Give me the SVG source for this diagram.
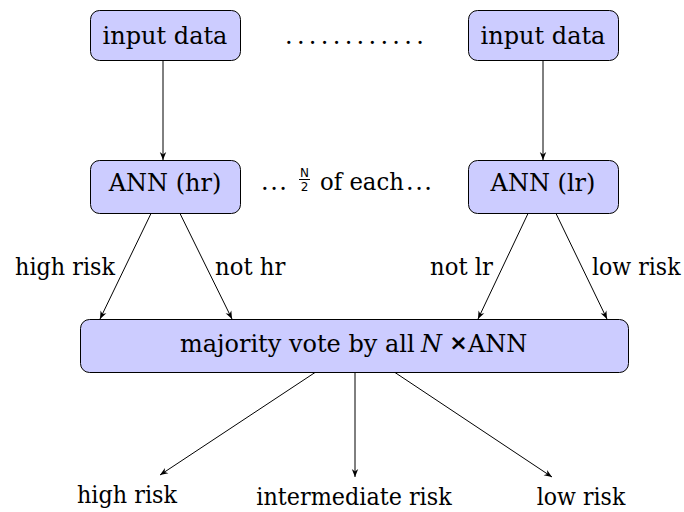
<svg xmlns="http://www.w3.org/2000/svg" width="684" height="512" viewBox="0 0 684 512">
<defs>
<marker id="ah" viewBox="0 0 10 10" refX="10" refY="5" markerWidth="8" markerHeight="8" orient="auto" markerUnits="userSpaceOnUse">
<path d="M0,1 L10,5 L0,9 L3,5 Z" fill="#000"/>
</marker>
</defs>
<rect width="684" height="512" fill="#fff"/>
<g id="input1"><rect x="90.5" y="10.5" width="150" height="50" rx="9" fill="#ccccff" stroke="#000" stroke-width="1"/><text font-family="DejaVu Serif, serif" font-size="24" x="165" y="43.5" text-anchor="middle">input data</text></g>
<g id="input2"><rect x="468.5" y="10.5" width="150" height="50" rx="9" fill="#ccccff" stroke="#000" stroke-width="1"/><text font-family="DejaVu Serif, serif" font-size="24" x="543" y="43.5" text-anchor="middle">input data</text></g>
<g id="dots1"><text font-family="DejaVu Serif, serif" font-size="24" x="285" y="43.5" letter-spacing="4.3">............</text></g>
<g id="ann_hr"><rect x="90.5" y="160.5" width="150" height="53" rx="9" fill="#ccccff" stroke="#000" stroke-width="1"/><text font-family="DejaVu Serif, serif" font-size="24" x="165" y="191" text-anchor="middle">ANN (hr)</text></g>
<g id="ann_lr"><rect x="468.5" y="160.5" width="150" height="53" rx="9" fill="#ccccff" stroke="#000" stroke-width="1"/><text font-family="DejaVu Serif, serif" font-size="24" x="543" y="191" text-anchor="middle">ANN (lr)</text></g>
<g id="each">
<text font-family="DejaVu Serif, serif" font-size="24" x="261" y="190" letter-spacing="1.5">...</text>
<text x="304.5" y="176.5" font-family="DejaVu Sans, sans-serif" font-size="12" text-anchor="middle">N</text>
<line x1="299" y1="179.5" x2="310" y2="179.5" stroke="#000" stroke-width="1"/>
<text x="304.5" y="190.5" font-family="DejaVu Sans, sans-serif" font-size="12" text-anchor="middle">2</text>
<text font-family="DejaVu Serif, serif" font-size="24" transform="translate(320,190) scale(0.95,1)">of each</text>
<text font-family="DejaVu Serif, serif" font-size="24" x="406" y="190" letter-spacing="1.5">...</text>
</g>
<g id="vote"><rect x="80.5" y="319.5" width="548" height="53" rx="9" fill="#ccccff" stroke="#000" stroke-width="1"/>
<text font-family="DejaVu Serif, serif" font-size="24" x="180" y="352">majority vote by all</text>
<text font-family="DejaVu Serif, serif" font-size="24" x="421" y="352" font-style="italic">N</text>
<text x="458.5" y="350" font-family="DejaVu Sans, sans-serif" font-size="22" font-weight="bold" text-anchor="middle">×</text>
<text font-family="DejaVu Serif, serif" font-size="24" x="468" y="352">ANN</text>
</g>
<g id="labels">
<text font-family="DejaVu Serif, serif" font-size="24" transform="translate(115,275) scale(0.93,1)" text-anchor="end">high risk</text>
<text font-family="DejaVu Serif, serif" font-size="24" transform="translate(215,275) scale(0.95,1)">not hr</text>
<text font-family="DejaVu Serif, serif" font-size="24" transform="translate(430,275) scale(0.95,1)">not lr</text>
<text font-family="DejaVu Serif, serif" font-size="24" transform="translate(592,275) scale(0.92,1)">low risk</text>
<text font-family="DejaVu Serif, serif" font-size="24" transform="translate(127,503) scale(0.93,1)" text-anchor="middle">high risk</text>
<text font-family="DejaVu Serif, serif" font-size="24" transform="translate(354,505) scale(0.93,1)" text-anchor="middle">intermediate risk</text>
<text font-family="DejaVu Serif, serif" font-size="24" transform="translate(581,505) scale(0.92,1)" text-anchor="middle">low risk</text>
</g>
<g id="connectors" stroke="#000" stroke-width="1" fill="none" marker-end="url(#ah)">
<line x1="163" y1="60.5" x2="163" y2="160"/>
<line x1="543" y1="60.5" x2="543" y2="160"/>
<line x1="151" y1="213.5" x2="100" y2="319"/>
<line x1="180" y1="213.5" x2="232" y2="319"/>
<line x1="528" y1="213.5" x2="478" y2="319"/>
<line x1="556" y1="213.5" x2="607" y2="319"/>
<line x1="315" y1="372.5" x2="160" y2="475"/>
<line x1="355" y1="372.5" x2="355" y2="477"/>
<line x1="395" y1="372.5" x2="552" y2="477"/>
</g>
</svg>
